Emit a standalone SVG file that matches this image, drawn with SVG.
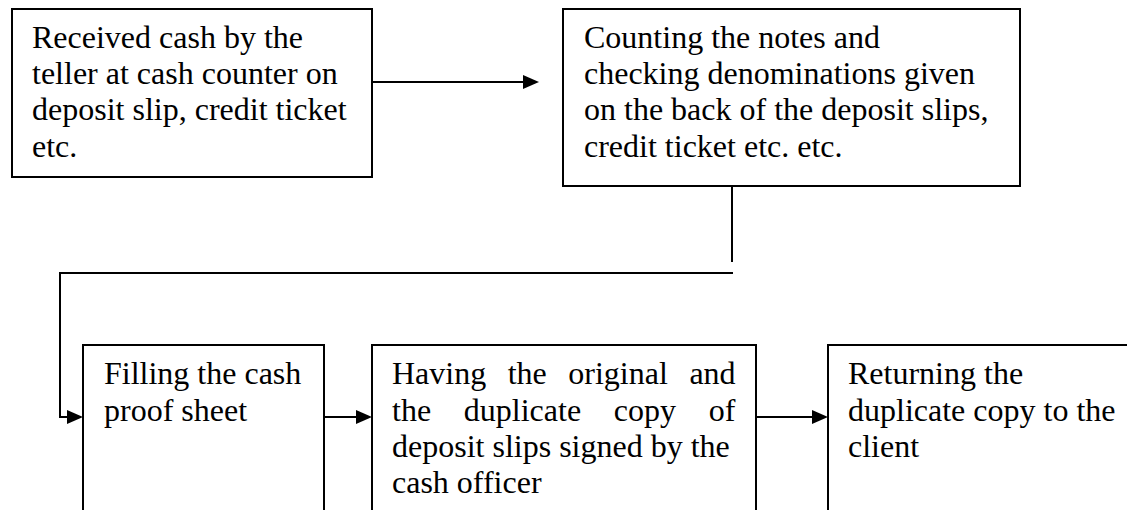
<svg xmlns="http://www.w3.org/2000/svg" width="1127" height="510" viewBox="0 0 1127 510">
  <style>
    .box { fill: #ffffff; stroke: #000000; stroke-width: 2; }
    .lbl { font-family: "Liberation Serif", "Times New Roman", serif; font-size: 32px; fill: #000000; }
    .wire { fill: none; stroke: #000000; stroke-width: 2; }
    .head { fill: #000000; stroke: none; }
  </style>
  <defs>
    <!-- right-pointing arrowhead, tip at the origin -->
    <path id="head-right" class="head" d="M-16,-7 L0,0 L-16,7 Z"/>
  </defs>
  <rect width="1127" height="510" fill="#ffffff"/>

  <g id="connectors">
    <line class="wire" x1="372" y1="82" x2="526" y2="82"/>
    <use href="#head-right" x="539" y="82"/>
    <line class="wire" x1="732" y1="186" x2="732" y2="262"/>
    <polyline class="wire" points="733,273 60,273 60,417 70,417"/>
    <use href="#head-right" x="83" y="417"/>
    <line class="wire" x1="324" y1="417" x2="359" y2="417"/>
    <use href="#head-right" x="372" y="417"/>
    <line class="wire" x1="756" y1="417" x2="815" y2="417"/>
    <use href="#head-right" x="828" y="417"/>
  </g>

  <g id="receive-cash">
    <rect class="box" x="12" y="9" width="360" height="168"/>
    <text class="lbl">
      <tspan x="32" y="48">Received cash by the</tspan>
      <tspan x="32" y="84">teller at cash counter on</tspan>
      <tspan x="32" y="120">deposit slip, credit ticket</tspan>
      <tspan x="32" y="156.5">etc.</tspan>
    </text>
  </g>

  <g id="count-notes">
    <rect class="box" x="563" y="9" width="457" height="177"/>
    <text class="lbl">
      <tspan x="584" y="48">Counting the notes and</tspan>
      <tspan x="584" y="84">checking denominations given</tspan>
      <tspan x="584" y="120">on the back of the deposit slips,</tspan>
      <tspan x="584" y="156.5">credit ticket etc. etc.</tspan>
    </text>
  </g>

  <g id="proof-sheet">
    <rect class="box" x="83" y="345" width="241" height="190"/>
    <text class="lbl">
      <tspan x="104" y="384">Filling the cash</tspan>
      <tspan x="104" y="420.5">proof sheet</tspan>
    </text>
  </g>

  <g id="sign-slips">
    <rect class="box" x="372" y="345" width="384" height="190"/>
    <text class="lbl">
      <tspan x="392" y="384">Having</tspan>
      <tspan x="507.7" y="384">the</tspan>
      <tspan x="568.3" y="384">original</tspan>
      <tspan x="689.4" y="384">and</tspan>
      <tspan x="392" y="420.5">the</tspan>
      <tspan x="463.8" y="420.5">duplicate</tspan>
      <tspan x="613.8" y="420.5">copy</tspan>
      <tspan x="708.7" y="420.5">of</tspan>
      <tspan x="392" y="457">deposit slips signed by the</tspan>
      <tspan x="392" y="493">cash officer</tspan>
    </text>
  </g>

  <g id="return-copy">
    <rect class="box" x="828" y="345" width="320" height="190"/>
    <text class="lbl">
      <tspan x="848" y="384">Returning the</tspan>
      <tspan x="848" y="420.5">duplicate copy to the</tspan>
      <tspan x="848" y="457">client</tspan>
    </text>
  </g>
</svg>
